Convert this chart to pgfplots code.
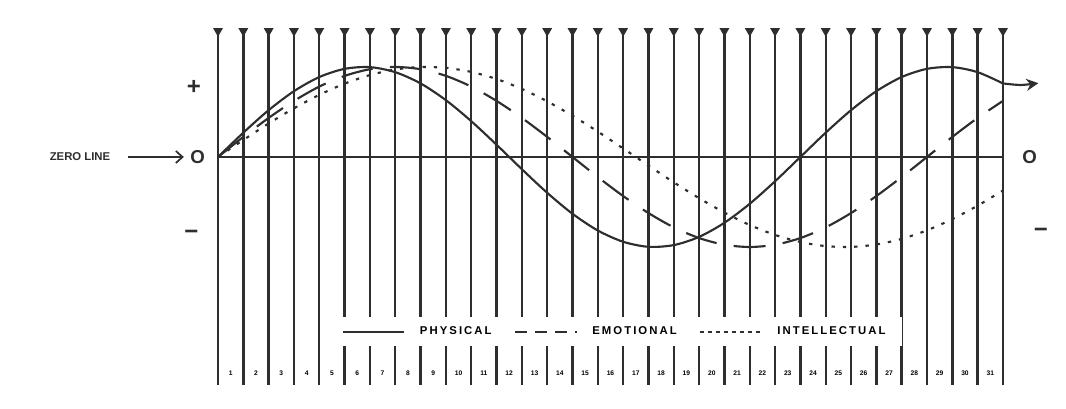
\documentclass[border=0pt]{standalone}
\usepackage{pgfplots}
\pgfplotsset{compat=1.18}
\usepackage{fontspec}
\setmainfont{Liberation Sans}
\usetikzlibrary{arrows.meta}
\definecolor{ink}{HTML}{2E2E2E}

\begin{document}
\begin{tikzpicture}
\begin{axis}[
    scale only axis,
    width=799.5pt, height=306pt,
    xmin=-8.61, xmax=33.49,
    ymin=-2.789, ymax=1.744,
    axis line style={draw=none}, xtick=\empty, ytick=\empty,
    clip=false,
    legend columns=3,
    legend style={at={(axis cs:15.68,-1.94)}, anchor=center, draw=none, fill=white,
        font=\bfseries\fontsize{8.5}{9}\selectfont\addfontfeatures{LetterSpace=18},
        inner xsep=10pt, inner ysep=5pt,
        /tikz/every odd column/.append style={column sep=9pt},
        /tikz/every even column/.append style={column sep=15pt}},
    legend image code/.code={\draw[#1] (0pt,0pt) -- (46pt,0pt);},
]
% day lines, up and down from the zero line
\addplot[ycomb, ink, line width=1.8pt, mark=triangle*, mark size=2.5pt,
    mark options={rotate=180, fill=ink}, forget plot] coordinates {
(0,1.40)(1,1.40)(2,1.40)(3,1.40)(4,1.40)(5,1.40)(6,1.40)(7,1.40)
(8,1.40)(9,1.40)(10,1.40)(11,1.40)(12,1.40)(13,1.40)(14,1.40)(15,1.40)
(16,1.40)(17,1.40)(18,1.40)(19,1.40)(20,1.40)(21,1.40)(22,1.40)(23,1.40)
(24,1.40)(25,1.40)(26,1.40)(27,1.40)(28,1.40)(29,1.40)(30,1.40)(31,1.40)};
\addplot[ycomb, ink, line width=1.8pt, forget plot] coordinates {
(0,-2.53)(1,-2.53)(2,-2.53)(3,-2.53)(4,-2.53)(5,-2.53)(6,-2.53)(7,-2.53)
(8,-2.53)(9,-2.53)(10,-2.53)(11,-2.53)(12,-2.53)(13,-2.53)(14,-2.53)(15,-2.53)
(16,-2.53)(17,-2.53)(18,-2.53)(19,-2.53)(20,-2.53)(21,-2.53)(22,-2.53)(23,-2.53)
(24,-2.53)(25,-2.53)(26,-2.53)(27,-2.53)(28,-2.53)(29,-2.53)(30,-2.53)(31,-2.53)};
% zero line
\addplot[ink, line width=1.3pt, forget plot] coordinates {(0,0)(31,0)};

% physical, 23 days
\addplot[ink, line width=1.6pt, smooth] coordinates {
(0,0)(1,0.270)(2,0.520)(3,0.731)(4,0.888)(5,0.979)(6,0.998)(7,0.942)
(8,0.817)(9,0.631)(10,0.398)(11,0.136)(12,-0.136)(13,-0.398)(14,-0.631)(15,-0.817)
(16,-0.942)(17,-0.998)(18,-0.979)(19,-0.888)(20,-0.731)(21,-0.520)(22,-0.270)(23,0)
(24,0.270)(25,0.520)(26,0.731)(27,0.888)(28,0.979)(29,0.998)(30,0.942)(31,0.817)};
\addlegendentry{PHYSICAL}
% emotional, 28 days
\addplot[ink, line width=1.6pt, smooth, dash pattern=on 24pt off 13pt,
    legend image post style={dash pattern=on 9pt off 6pt}] coordinates {
(0,0)(1,0.223)(2,0.434)(3,0.623)(4,0.782)(5,0.901)(6,0.975)(7,1)
(8,0.975)(9,0.901)(10,0.782)(11,0.623)(12,0.434)(13,0.223)(14,0)(15,-0.223)
(16,-0.434)(17,-0.623)(18,-0.782)(19,-0.901)(20,-0.975)(21,-1)(22,-0.975)(23,-0.901)
(24,-0.782)(25,-0.623)(26,-0.434)(27,-0.223)(28,0)(29,0.223)(30,0.434)(31,0.623)};
\addlegendentry{EMOTIONAL}
% intellectual, 33 days
\addplot[ink, line width=1.6pt, smooth, dash pattern=on 2.5pt off 6pt,
    legend image post style={dash pattern=on 2.5pt off 3.5pt}] coordinates {
(0,0)(1,0.189)(2,0.372)(3,0.541)(4,0.690)(5,0.815)(6,0.910)(7,0.972)
(8,0.999)(9,0.990)(10,0.945)(11,0.866)(12,0.756)(13,0.618)(14,0.458)(15,0.282)
(16,0.095)(17,-0.095)(18,-0.282)(19,-0.458)(20,-0.618)(21,-0.756)(22,-0.866)(23,-0.945)
(24,-0.990)(25,-0.999)(26,-0.972)(27,-0.910)(28,-0.815)(29,-0.690)(30,-0.541)(31,-0.372)};
\addlegendentry{INTELLECTUAL}

% physical runs on past the last day
\addplot[ink, line width=1.6pt, smooth, -{Stealth[length=9pt,width=9pt]}, forget plot]
    coordinates {(31,0.817)(31.7,0.80)(32.4,0.82)};

% day numbers between the lines
\addplot[draw=none, forget plot, nodes near coords, point meta=explicit symbolic,
    every node near coord/.append style={anchor=center, font=\bfseries\fontsize{5}{5}\selectfont}]
    coordinates {
(0.5,-2.4)[1](1.5,-2.4)[2](2.5,-2.4)[3](3.5,-2.4)[4](4.5,-2.4)[5](5.5,-2.4)[6]
(6.5,-2.4)[7](7.5,-2.4)[8](8.5,-2.4)[9](9.5,-2.4)[10](10.5,-2.4)[11](11.5,-2.4)[12]
(12.5,-2.4)[13](13.5,-2.4)[14](14.5,-2.4)[15](15.5,-2.4)[16](16.5,-2.4)[17](17.5,-2.4)[18]
(18.5,-2.4)[19](19.5,-2.4)[20](20.5,-2.4)[21](21.5,-2.4)[22](22.5,-2.4)[23](23.5,-2.4)[24]
(24.5,-2.4)[25](25.5,-2.4)[26](26.5,-2.4)[27](27.5,-2.4)[28](28.5,-2.4)[29](29.5,-2.4)[30]
(30.5,-2.4)[31]};

% side marks
\node[ink, font=\bfseries\fontsize{18}{18}\selectfont] at (axis cs:-0.95,0.77) {+};
\node[ink, font=\bfseries\fontsize{14}{14}\selectfont] at (axis cs:-0.8,0) {O};
\node[ink, font=\bfseries\fontsize{18}{18}\selectfont] at (axis cs:-1.05,-0.87) {−};
\node[ink, font=\bfseries\fontsize{14}{14}\selectfont] at (axis cs:32.05,0) {O};
\node[ink, font=\bfseries\fontsize{18}{18}\selectfont] at (axis cs:32.5,-0.84) {−};
\node[ink, font=\bfseries\fontsize{8.5}{9}\selectfont] at (axis cs:-5.45,0) {ZERO LINE};
\draw[ink, line width=1.3pt, -{Straight Barb[length=5pt,width=9pt]}]
    (axis cs:-3.55,0) -- (axis cs:-1.35,0);
\end{axis}
\end{tikzpicture}
\end{document}
